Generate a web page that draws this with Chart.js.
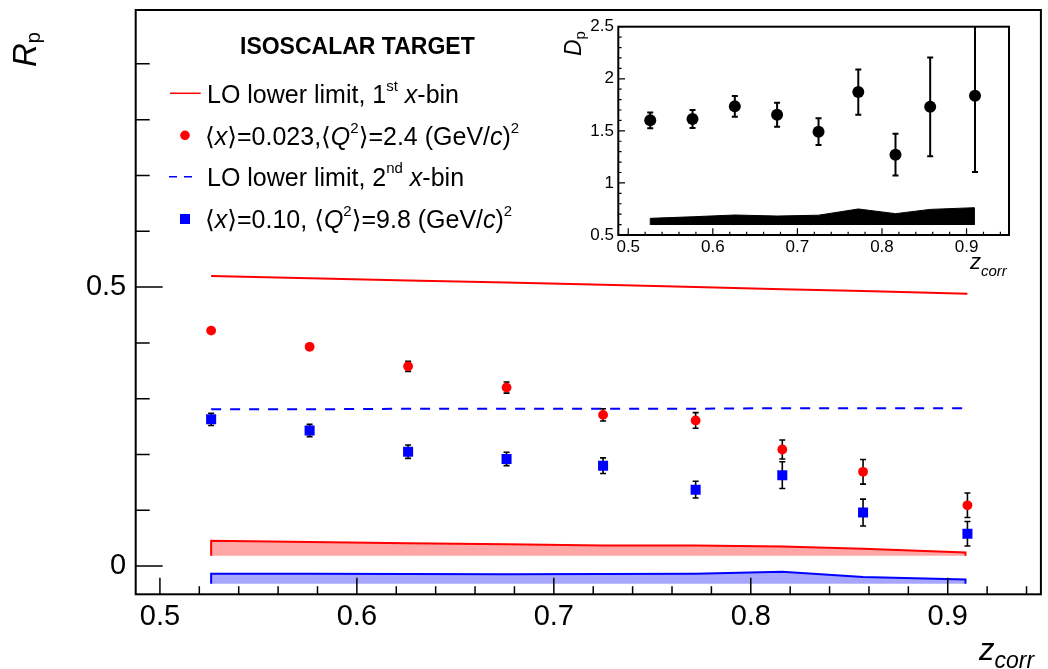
<!DOCTYPE html>
<html>
<head>
<meta charset="utf-8">
<script src="https://cdn.jsdelivr.net/npm/chart.js@4.4.0/dist/chart.umd.min.js"></script>
<style>
  body { margin: 0; background: #fff; }
  #wrap { position: relative; width: 1048px; height: 669px; }
  #main { position: absolute; left: 0; top: 0; }
  #inset { position: absolute; left: 555px; top: 15px; }
</style>
</head>
<body>
<div id="wrap">
  <canvas id="main" width="1048" height="669"></canvas>
  <canvas id="inset" width="460" height="272"></canvas>
</div>
<script>
// z_corr bin centres
const zCorr = [0.526, 0.576, 0.626, 0.676, 0.725, 0.772, 0.816, 0.857, 0.910];

// R_p, 1st x-bin (<x>=0.023) and 2nd x-bin (<x>=0.10)
const rpBin1    = [0.422, 0.393, 0.358, 0.320, 0.271, 0.261, 0.209, 0.169, 0.109];
const rpBin1Err = [0.003, 0.003, 0.009, 0.010, 0.011, 0.014, 0.017, 0.022, 0.022];
const rpBin2    = [0.263, 0.243, 0.205, 0.192, 0.180, 0.137, 0.163, 0.096, 0.058];
const rpBin2Err = [0.011, 0.011, 0.012, 0.012, 0.014, 0.015, 0.024, 0.024, 0.022];

// LO lower limits
const loZ    = [0.526, 0.576, 0.626, 0.676, 0.725, 0.772, 0.816, 0.857, 0.910];
const loBin1 = [0.520, 0.516, 0.512, 0.508, 0.504, 0.500, 0.496, 0.493, 0.488];
const loBin2 = [0.281, 0.281, 0.282, 0.282, 0.282, 0.282, 0.283, 0.283, 0.283];

// systematic bands
const sysZ       = [0.526, 0.576, 0.626, 0.676, 0.725, 0.772, 0.816, 0.857, 0.909];
const sysBin1Top = [0.0453, 0.043, 0.041, 0.039, 0.037, 0.037, 0.035, 0.031, 0.0246];
const sysBin1Base = 0.0185;
const sysBin2Top = [-0.0138, -0.0136, -0.0140, -0.0145, -0.0142, -0.0135, -0.0102, -0.0195, -0.0238];
const sysBin2Base = -0.0317;

// inset: D_p
const dp       = [1.601, 1.613, 1.735, 1.655, 1.492, 1.872, 1.271, 1.731, 1.837];
const dpErr    = [0.075, 0.086, 0.099, 0.115, 0.128, 0.218, 0.200, 0.474, 0.733];
const dpSysTop = [0.660, 0.675, 0.692, 0.682, 0.690, 0.750, 0.705, 0.746, 0.762];
const dpSysBase = 0.596;

// axis ticks
const xTicks = [0.5, 0.6, 0.7, 0.8, 0.9];
const yTicks = [0, 0.5];
const insetYTicks = [0.5, 1, 1.5, 2, 2.5];

const FONT = "'Liberation Sans', 'DejaVu Sans', sans-serif";

function steps(from, to, step, skip) {
  let out = [];
  for (let v = from; v <= to + 1e-9; v += step) {
    let r = Math.round(v * 1000) / 1000;
    if (skip && Math.abs(r / skip - Math.round(r / skip)) < 1e-6) continue;
    out.push(r);
  }
  return out;
}

function pts(xs, ys) {
  return xs.map((x, i) => ({ x: x, y: ys[i] }));
}

function bandPts(xs, top, base) {
  return [{ x: xs[0], y: base }].concat(pts(xs, top), [{ x: xs[xs.length - 1], y: base }]);
}

function richText(ctx, parts, x, y, size) {
  let cx = x;
  parts.forEach(p => {
    let s = p.size || ((p.sup || p.sub) ? size * 0.6 : size);
    let dy = p.sup ? -size * 0.5 : (p.sub ? size * 0.3 : 0);
    if (p.dy) dy = p.dy;
    ctx.font = (p.it ? 'italic ' : '') + (p.b ? 'bold ' : '') + s + 'px ' + FONT;
    ctx.fillText(p.t, cx, y + dy);
    cx += ctx.measureText(p.t).width;
  });
  return cx;
}

// error bars drawn under the markers
const errorBars = {
  id: 'errorBars',
  beforeDatasetDraw(chart, args) {
    const ds = chart.data.datasets[args.index];
    if (!ds.yErr) return;
    const ctx = chart.ctx, xs = chart.scales.x, ys = chart.scales.y, a = chart.chartArea;
    ctx.save();
    ctx.beginPath();
    ctx.rect(a.left, a.top, a.right - a.left, a.bottom - a.top);
    ctx.clip();
    ctx.strokeStyle = '#000';
    ctx.lineWidth = ds.errWidth;
    ctx.beginPath();
    ds.data.forEach((p, i) => {
      const px = xs.getPixelForValue(p.x);
      const hi = ys.getPixelForValue(p.y + ds.yErr[i]);
      const lo = ys.getPixelForValue(p.y - ds.yErr[i]);
      ctx.moveTo(px, hi); ctx.lineTo(px, lo);
      ctx.moveTo(px - ds.capW, hi); ctx.lineTo(px + ds.capW, hi);
      ctx.moveTo(px - ds.capW, lo); ctx.lineTo(px + ds.capW, lo);
    });
    ctx.stroke();
    ctx.restore();
  }
};

// ROOT-like frame with inward ticks
function framePlugin(spec) {
  return {
    id: 'frame',
    afterDatasetsDraw(chart) {
      const ctx = chart.ctx, a = chart.chartArea, xs = chart.scales.x, ys = chart.scales.y;
      ctx.save();
      ctx.strokeStyle = '#000';
      ctx.lineWidth = spec.tickWidth;
      ctx.beginPath();
      spec.xMajor.forEach(v => { const p = xs.getPixelForValue(v); ctx.moveTo(p, a.bottom); ctx.lineTo(p, a.bottom - spec.xMajorLen); });
      spec.xMinor.forEach(v => { const p = xs.getPixelForValue(v); ctx.moveTo(p, a.bottom); ctx.lineTo(p, a.bottom - spec.xMinorLen); });
      spec.yMajor.forEach(v => { const p = ys.getPixelForValue(v); ctx.moveTo(a.left, p); ctx.lineTo(a.left + spec.yMajorLen, p); });
      spec.yMinor.forEach(v => { const p = ys.getPixelForValue(v); ctx.moveTo(a.left, p); ctx.lineTo(a.left + spec.yMinorLen, p); });
      ctx.stroke();
      ctx.lineWidth = spec.frameWidth;
      ctx.strokeRect(a.left, a.top, a.right - a.left, a.bottom - a.top);
      ctx.restore();
    },
    afterDraw(chart) {
      const ctx = chart.ctx;
      ctx.save();
      ctx.fillStyle = '#000';
      ctx.textBaseline = 'alphabetic';
      ctx.textAlign = 'left';
      spec.text(ctx);
      ctx.restore();
    }
  };
}

function mainText(ctx) {
  // y title R_p (rotated)
  ctx.save();
  ctx.translate(36, 67);
  ctx.rotate(-Math.PI / 2);
  richText(ctx, [{ t: 'R', it: 1 }, { t: 'p', size: 20, dy: 4 }], 0, 0, 33);
  ctx.restore();
  // x title z_corr
  richText(ctx, [{ t: 'z', it: 1 }, { t: 'corr', it: 1, size: 23, dy: 8 }], 979, 660, 31);

  // legend
  richText(ctx, [{ t: 'ISOSCALAR TARGET', b: 1 }], 240, 54, 23);
  const fs = 25;
  ctx.strokeStyle = '#ff0000'; ctx.lineWidth = 1.5;
  ctx.beginPath(); ctx.moveTo(170, 93.3); ctx.lineTo(200.7, 93.3); ctx.stroke();
  ctx.fillStyle = '#000';
  richText(ctx, [{ t: 'LO lower limit, 1' }, { t: 'st', sup: 1 }, { t: ' ' }, { t: 'x', it: 1 }, { t: '-bin' }], 207, 103.3, fs);

  ctx.fillStyle = '#ff0000';
  ctx.beginPath(); ctx.arc(185, 135.3, 4.8, 0, Math.PI * 2); ctx.fill();
  ctx.fillStyle = '#000';
  richText(ctx, [{ t: '\u27E8' }, { t: 'x', it: 1 }, { t: '\u27E9=0.023,\u27E8' }, { t: 'Q', it: 1 }, { t: '2', sup: 1 },
    { t: '\u27E9=2.4 (GeV/' }, { t: 'c', it: 1 }, { t: ')' }, { t: '2', sup: 1 }], 205, 145, fs);

  ctx.strokeStyle = '#0000ff'; ctx.lineWidth = 1.5;
  ctx.setLineDash([8, 7]);
  ctx.beginPath(); ctx.moveTo(169, 176.7); ctx.lineTo(199, 176.7); ctx.stroke();
  ctx.setLineDash([]);
  richText(ctx, [{ t: 'LO lower limit, 2' }, { t: 'nd', sup: 1 }, { t: ' ' }, { t: 'x', it: 1 }, { t: '-bin' }], 207, 185.7, fs);

  ctx.fillStyle = '#0000ff';
  ctx.fillRect(180, 214, 10, 10);
  ctx.fillStyle = '#000';
  richText(ctx, [{ t: '\u27E8' }, { t: 'x', it: 1 }, { t: '\u27E9=0.10, \u27E8' }, { t: 'Q', it: 1 }, { t: '2', sup: 1 },
    { t: '\u27E9=9.8 (GeV/' }, { t: 'c', it: 1 }, { t: ')' }, { t: '2', sup: 1 }], 205, 228.3, fs);
}

function insetText(ctx) {
  const ox = 555, oy = 15;
  ctx.save();
  ctx.translate(581 - ox, 56 - oy);
  ctx.rotate(-Math.PI / 2);
  richText(ctx, [{ t: 'D', it: 1 }, { t: 'p', size: 15, dy: 4 }], 0, 0, 23);
  ctx.restore();
  richText(ctx, [{ t: 'z', it: 1 }, { t: 'corr', it: 1, size: 15, dy: 7 }], 970 - ox, 268.5 - oy, 22);
}

const fmt = v => String(Math.round(v * 10) / 10);

// keep tick labels from pushing the plot frame around
function noPad(s) {
  s.paddingTop = 0; s.paddingBottom = 0; s.paddingLeft = 0; s.paddingRight = 0;
}

new Chart(document.getElementById('main'), {
  type: 'scatter',
  data: {
    datasets: [
      { label: 'bin1', data: pts(zCorr, rpBin1), yErr: rpBin1Err, errWidth: 1.6, capW: 3,
        pointStyle: 'circle', pointRadius: 4.9, backgroundColor: '#ff0000', borderWidth: 0, order: 1 },
      { label: 'bin2', data: pts(zCorr, rpBin2), yErr: rpBin2Err, errWidth: 1.6, capW: 3,
        pointStyle: 'rect', pointRadius: 7.1, backgroundColor: '#0000ff', borderWidth: 0, order: 2 },
      { type: 'line', label: 'LO 1', data: pts(loZ, loBin1), borderColor: '#ff0000', borderWidth: 2,
        pointRadius: 0, fill: false, order: 3 },
      { type: 'line', label: 'LO 2', data: pts(loZ, loBin2), borderColor: '#0000ff', borderWidth: 2,
        borderDash: [10, 9], pointRadius: 0, fill: false, order: 4 },
      { type: 'line', label: 'sys 1', data: bandPts(sysZ, sysBin1Top, sysBin1Base), borderColor: '#ff0000',
        borderWidth: 2, backgroundColor: 'rgba(255,0,0,0.35)', pointRadius: 0, fill: { value: sysBin1Base }, order: 5 },
      { type: 'line', label: 'sys 2', data: bandPts(sysZ, sysBin2Top, sysBin2Base), borderColor: '#0000ff',
        borderWidth: 2, backgroundColor: 'rgba(0,0,255,0.35)', pointRadius: 0, fill: { value: sysBin2Base }, order: 6 }
    ]
  },
  options: {
    responsive: false,
    animation: false,
    devicePixelRatio: 1,
    layout: { padding: { top: 10, right: 2.2, left: 0, bottom: 0 } },
    plugins: { legend: { display: false }, tooltip: { enabled: false } },
    scales: {
      x: {
        type: 'linear', min: 0.4877, max: 0.9473,
        grid: { display: false, drawTicks: false }, border: { display: false },
        afterBuildTicks: s => { s.ticks = xTicks.map(v => ({ value: v })); },
        afterFit: s => { s.height = 74.7; noPad(s); },
        ticks: { autoSkip: false, maxRotation: 0, padding: 5, color: '#000',
          font: { family: FONT, size: 29 }, callback: fmt }
      },
      y: {
        min: -0.0505, max: 0.9965,
        grid: { display: false, drawTicks: false }, border: { display: false },
        afterBuildTicks: s => { s.ticks = yTicks.map(v => ({ value: v })); },
        afterFit: s => { s.width = 135.7; noPad(s); },
        ticks: { autoSkip: false, padding: 9.5, color: '#000',
          font: { family: FONT, size: 29 }, callback: fmt }
      }
    }
  },
  plugins: [errorBars, framePlugin({
    tickWidth: 1.5, frameWidth: 2,
    xMajor: xTicks, xMinor: steps(0.52, 0.94, 0.02, 0.1), xMajorLen: 16.5, xMinorLen: 8,
    yMajor: yTicks, yMinor: steps(0.1, 0.9, 0.1, 0.5), yMajorLen: 27, yMinorLen: 14,
    text: mainText
  })]
});

new Chart(document.getElementById('inset'), {
  type: 'scatter',
  data: {
    datasets: [
      { label: 'Dp', data: pts(zCorr, dp), yErr: dpErr, errWidth: 2, capW: 3,
        pointStyle: 'circle', pointRadius: 6, backgroundColor: '#000', borderWidth: 0, order: 1 },
      { type: 'line', label: 'sys', data: bandPts(sysZ, dpSysTop, dpSysBase), borderColor: '#000',
        borderWidth: 1, backgroundColor: '#000', pointRadius: 0, fill: { value: dpSysBase }, order: 2 }
    ]
  },
  options: {
    responsive: false,
    animation: false,
    devicePixelRatio: 1,
    layout: { padding: { top: 11.7, right: 4, left: 0, bottom: 0 } },
    plugins: { legend: { display: false }, tooltip: { enabled: false } },
    scales: {
      x: {
        type: 'linear', min: 0.48824, max: 0.9502,
        grid: { display: false, drawTicks: false }, border: { display: false },
        afterBuildTicks: s => { s.ticks = xTicks.map(v => ({ value: v })); },
        afterFit: s => { s.height = 52; noPad(s); },
        ticks: { autoSkip: false, maxRotation: 0, padding: 2, color: '#000',
          font: { family: FONT, size: 17 }, callback: fmt }
      },
      y: {
        min: 0.5, max: 2.5,
        grid: { display: false, drawTicks: false }, border: { display: false },
        afterBuildTicks: s => { s.ticks = insetYTicks.map(v => ({ value: v })); },
        afterFit: s => { s.width = 63.3; noPad(s); },
        ticks: { autoSkip: false, padding: 4.3, color: '#000',
          font: { family: FONT, size: 17 }, callback: v => String(v) }
      }
    }
  },
  plugins: [errorBars, framePlugin({
    tickWidth: 1.2, frameWidth: 2,
    xMajor: xTicks, xMinor: steps(0.52, 0.94, 0.02, 0.1), xMajorLen: 6.7, xMinorLen: 3.3,
    yMajor: insetYTicks, yMinor: steps(0.6, 2.4, 0.1, 0.5), yMajorLen: 6.7, yMinorLen: 3.3,
    text: insetText
  })]
});
</script>
</body>
</html>
